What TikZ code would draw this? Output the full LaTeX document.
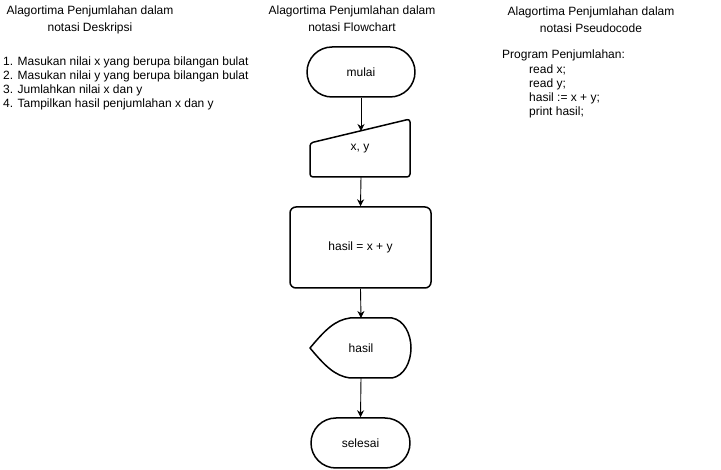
\documentclass[tikz,border=0pt]{standalone}
\usepackage{fontspec}
\setmainfont{Liberation Sans}
\usetikzlibrary{arrows.meta}
\begin{document}
\begin{tikzpicture}[x=1pt,y=-1pt,
  every node/.style={font=\fontsize{12}{14}\selectfont, inner sep=0pt},
  shape line/.style={draw=black, line width=1.5pt, line join=round},
  conn/.style={draw=black, line width=0.9pt, -{Stealth[length=7pt,width=7pt]}},
  head/.style={align=center, font=\fontsize{12}{17}\selectfont},
  list/.style={anchor=west}]
\useasboundingbox (0,0) rectangle (721,470);
% headings
\node[head] (h1) at (90,20) {Alagortima Penjumlahan dalam\\notasi Deskripsi};
\node[head] (h2) at (352,19) {Alagortima Penjumlahan dalam\\notasi Flowchart};
\node[head] (h3) at (591,20) {Alagortima Penjumlahan dalam\\notasi Pseudocode};
% description list
\node[list] (d1) at (3,62) {1. Masukan nilai x yang berupa bilangan bulat};
\node[list] (d2) at (3,76) {2. Masukan nilai y yang berupa bilangan bulat};
\node[list] (d3) at (3,90) {3. Jumlahkan nilai x dan y};
\node[list] (d4) at (3,104) {4. Tampilkan hasil penjumlahan x dan y};
% pseudocode
\node[list] (p0) at (502,55) {Program Penjumlahan:};
\node[list] (p1) at (529,70) {read x;};
\node[list] (p2) at (529,84) {read y;};
\node[list] (p3) at (529,98) {hasil := x + y;};
\node[list] (p4) at (529,112) {print hasil;};
% flowchart
\node[shape line, rounded corners=25pt, minimum width=108pt, minimum height=50pt] (mulai) at (361,72) {mulai};
\draw[shape line, rounded corners=3pt] (310,143) -- (410,119) -- (410,177) -- (310,177) -- cycle;
\coordinate (xytop) at (361,131);
\coordinate (xybot) at (361,177);
\node (xy) at (360,149) {x, y};
\node[shape line, rounded corners=6pt, minimum width=141pt, minimum height=81pt] (proc) at (360.5,247.5) {hasil = x + y};
\draw[shape line] (310,348) .. controls (325,330) and (335,320) .. (350,318) -- (392,318)
  .. controls (404,320) and (411,334) .. (411,348) .. controls (411,362) and (404,376) .. (392,378)
  -- (350,378) .. controls (335,376) and (325,366) .. (310,348) -- cycle;
\coordinate (distop) at (361,318);
\coordinate (disbot) at (361,378);
\node (dis) at (361,348) {hasil};
\node[shape line, rounded corners=25pt, minimum width=99pt, minimum height=50pt] (selesai) at (360.5,443) {selesai};
% connectors
\draw[conn] (mulai.south) -- (xytop);
\draw[conn] (xybot) -- (proc.north);
\draw[conn] (proc.south) -- (distop);
\draw[conn] (disbot) -- (selesai.north);
\end{tikzpicture}
\end{document}
